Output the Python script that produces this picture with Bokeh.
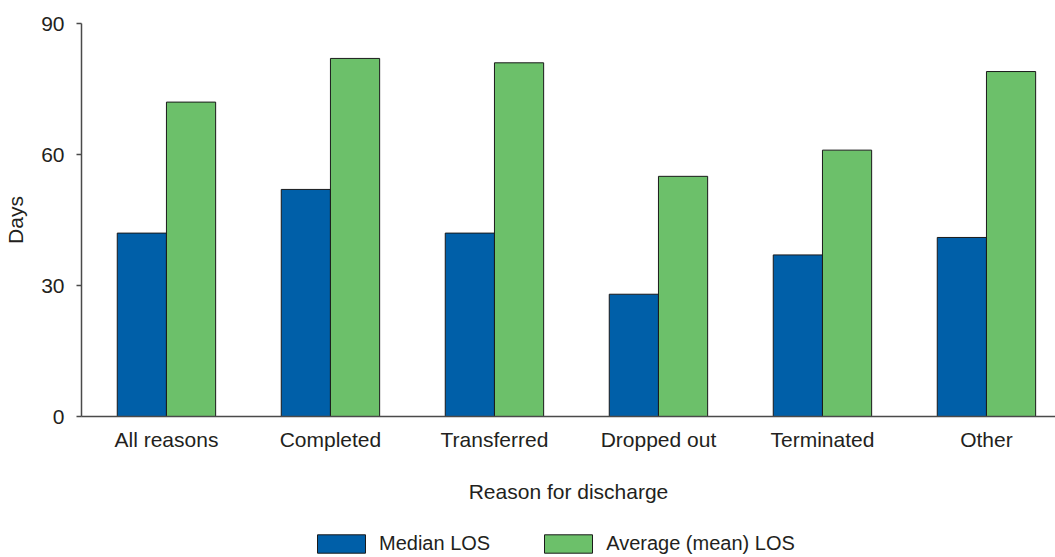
from bokeh.plotting import figure
from bokeh.layouts import column
from bokeh.models import Range1d, FixedTicker, Legend, LegendItem, ColumnDataSource
from bokeh.transform import dodge
from bokeh.embed import file_html
from bokeh.resources import INLINE

categories = ["All reasons", "Completed", "Transferred", "Dropped out", "Terminated", "Other"]
median_los = [42, 52, 42, 28, 37, 41]
mean_los = [72, 82, 81, 55, 61, 79]
y_ticks = [0, 30, 60, 90]
series_names = ["Median LOS", "Average (mean) LOS"]

BLUE = "#005FA8"
GREEN = "#6CC06A"
TEXT = "#231F20"
AXIS = "#4A4A4A"
OUTLINE = "#1a1a1a"
FONT = "Liberation Sans"
FS = "21px"

xs = list(range(len(categories)))
src = ColumnDataSource(dict(x=xs, median=median_los, mean=mean_los))

p = figure(width=1055, height=520, output_backend="svg", toolbar_location=None,
           x_range=Range1d(-0.518, 5.421), y_range=Range1d(0, 90),
           min_border_left=81, min_border_right=0, min_border_top=23, min_border_bottom=104)
p.outline_line_color = None
p.xgrid.visible = False
p.ygrid.visible = False

p.vbar(x=dodge("x", -0.15), top="median", width=0.3, source=src,
       fill_color=BLUE, line_color=OUTLINE, line_width=1)
p.vbar(x=dodge("x", 0.15), top="mean", width=0.3, source=src,
       fill_color=GREEN, line_color=OUTLINE, line_width=1)

# x axis
xa = p.xaxis[0]
xa.ticker = FixedTicker(ticks=xs)
xa.major_label_overrides = {i: c for i, c in zip(xs, categories)}
xa.major_tick_out = 0
xa.major_tick_in = 0
xa.minor_tick_out = 0
xa.minor_tick_in = 0
xa.major_label_standoff = 11
xa.axis_label = "Reason for discharge"
xa.axis_label_standoff = 26
xa.axis_line_color = AXIS
xa.axis_line_width = 1.5

# y axis
ya = p.yaxis[0]
ya.ticker = FixedTicker(ticks=y_ticks)
ya.major_tick_out = 5
ya.major_tick_in = 0
ya.minor_tick_out = 0
ya.minor_tick_in = 0
ya.major_tick_line_color = AXIS
ya.major_tick_line_width = 1.5
ya.major_label_standoff = 12
ya.axis_label = "Days"
ya.axis_label_standoff = 11
ya.axis_line_color = AXIS
ya.axis_line_width = 1.5

for ax in (xa, ya):
    ax.major_label_text_font = FONT
    ax.major_label_text_font_size = FS
    ax.major_label_text_color = TEXT
    ax.axis_label_text_font = FONT
    ax.axis_label_text_font_size = FS
    ax.axis_label_text_font_style = "normal"
    ax.axis_label_text_color = TEXT

# legend strip below the chart (its bars lie outside the strip's visible range)
lg = figure(width=1055, height=37, output_backend="svg", toolbar_location=None,
            x_axis_type=None, y_axis_type=None, min_border=0,
            x_range=Range1d(-20, -19), y_range=Range1d(0, 1))
lg.outline_line_color = None
lg.xgrid.visible = False
lg.ygrid.visible = False
l1 = lg.vbar(x="x", top="median", width=0.3, source=src, fill_color=BLUE, line_color=OUTLINE, line_width=1)
l2 = lg.vbar(x="x", top="mean", width=0.3, source=src, fill_color=GREEN, line_color=OUTLINE, line_width=1)

legend = Legend(items=[LegendItem(label=series_names[0], renderers=[l1]),
                       LegendItem(label=series_names[1], renderers=[l2])],
                orientation="horizontal", location=(230, 2),
                glyph_width=60, glyph_height=23, label_standoff=8, spacing=48,
                padding=0, margin=0, border_line_color=None, background_fill_alpha=0,
                label_text_font=FONT, label_text_font_size="20px", label_text_color=TEXT)
lg.add_layout(legend)

layout = column(p, lg, spacing=0)
open("out.html", "w").write(file_html(layout, INLINE))
